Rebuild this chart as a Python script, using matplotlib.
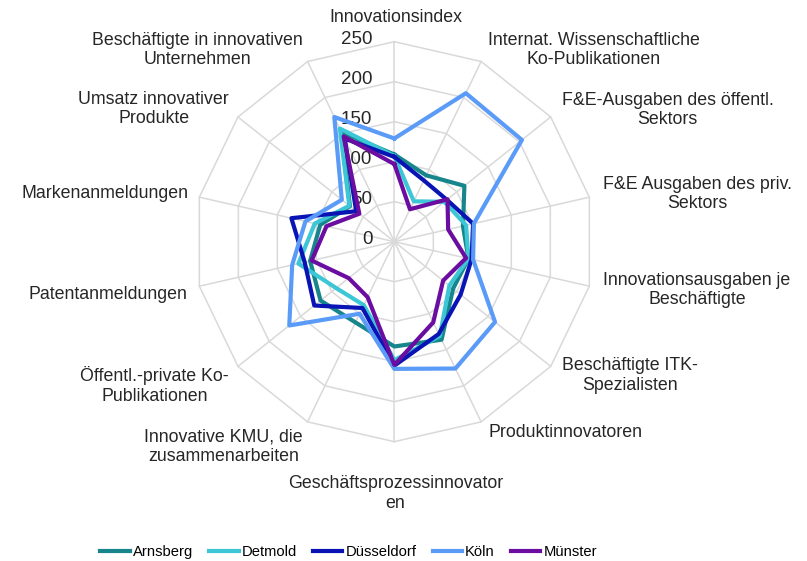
import numpy as np
import matplotlib.pyplot as plt

plt.rcParams['font.family'] = ['Liberation Sans', 'DejaVu Sans']

# Kategorien (im Uhrzeigersinn ab oben)
kategorien = [
    "Innovationsindex",
    "Internat. Wissenschaftliche\nKo-Publikationen",
    "F&E-Ausgaben des öffentl.\nSektors",
    "F&E Ausgaben des priv.\nSektors",
    "Innovationsausgaben je\nBeschäftigte",
    "Beschäftigte ITK-\nSpezialisten",
    "Produktinnovatoren",
    "Geschäftsprozessinnovator\nen",
    "Innovative KMU, die\nzusammenarbeiten",
    "Öffentl.-private Ko-\nPublikationen",
    "Patentanmeldungen",
    "Markenanmeldungen",
    "Umsatz innovativer\nProdukte",
    "Beschäftigte in innovativen\nUnternehmen",
]

arnsberg = [109, 92, 112, 88, 95, 94, 136, 131, 112, 118, 108, 95, 71, 152]
detmold = [107, 56, 80, 92, 95, 88, 131, 148, 88, 93, 123, 102, 72, 157]
duesseldorf = [106, 85, 84, 101, 99, 106, 128, 155, 92, 128, 115, 132, 61, 143]
koeln = [129, 206, 204, 102, 101, 161, 176, 159, 100, 168, 131, 114, 84, 173]
muenster = [97, 45, 85, 69, 92, 78, 112, 154, 77, 73, 106, 87, 56, 146]

regionen = ["Arnsberg", "Detmold", "Düsseldorf", "Köln", "Münster"]
farben = ["#17868C", "#3CC6D6", "#0A14B4", "#5B9BF8", "#6A0DA0"]
ringe = [0, 50, 100, 150, 200, 250]

n = len(kategorien)
winkel = np.arange(n) * 2 * np.pi / n
winkel_zu = np.append(winkel, winkel[0])

fig = plt.figure(figsize=(8.07, 5.61), dpi=100)
ax = fig.add_axes([0.2408, 0.2127, 0.4957, 0.713], projection='polar')
ax.set_theta_zero_location('N')
ax.set_theta_direction(-1)
ax.set_ylim(0, 250)
ax.grid(False)
ax.spines['polar'].set_visible(False)
ax.set_xticks([])
ax.set_yticks([])
ax.patch.set_visible(False)

grau = "#D9D9D9"
# Polygon-Gitter
for r in ringe[1:]:
    ax.plot(winkel_zu, [r] * (n + 1), color=grau, lw=1.1, zorder=1, clip_on=False)
for w in winkel:
    ax.plot([w, w], [0, 250], color=grau, lw=1.1, zorder=1, clip_on=False)

# Achsenbeschriftung radial
for r in ringe:
    ax.annotate(str(r), xy=(0, r), xytext=(-22, 2), textcoords='offset pixels',
                ha='right', va='center', fontsize=13.5, color='#262626', zorder=2)

# Kategorien-Beschriftung
label_ha = ['center', 'left', 'left', 'left', 'left', 'left', 'left',
            'center', 'right', 'right', 'right', 'right', 'right', 'right']
label_dx = [2, 7, 11, 14, 14, 11, 7, 1, -4.5, -9, -12, -11, -9, -4.5]
label_dy = [24, 11.5, 7, 3, -4, -9, -11, -52, -25, -19, -8, 4, 8, 11.5]
for i, text in enumerate(kategorien):
    ax.annotate(text, xy=(winkel[i], 250), xytext=(label_dx[i], label_dy[i]),
                textcoords='offset pixels', ha=label_ha[i], va='center',
                multialignment='center', fontsize=12.8, color='#262626',
                annotation_clip=False)

daten = [arnsberg, detmold, duesseldorf, koeln, muenster]
for name, werte, farbe in zip(regionen, daten, farben):
    ax.plot(winkel_zu, werte + werte[:1], color=farbe, lw=3, label=name,
            zorder=3, clip_on=False)

fig.legend(loc='center', bbox_to_anchor=(0.432, 0.016), ncol=5, frameon=False,
           fontsize=10.6, handlelength=2.0, handletextpad=0.2, columnspacing=1.1)

fig.savefig('out.png', dpi=100)
